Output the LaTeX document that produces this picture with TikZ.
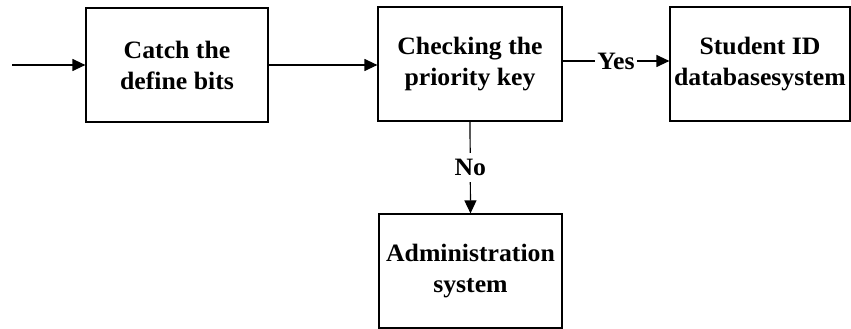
\documentclass[tikz,border=0pt]{standalone}
\usepackage{fontspec}
\setmainfont{Liberation Serif}[FakeStretch=1.03]
\usetikzlibrary{arrows.meta}
\tikzset{
  stagebox/.style={draw, line width=1.2pt, minimum height=114pt, inner sep=0pt,
    align=center, font=\bfseries\fontsize{25}{31}\selectfont},
  flow/.style={line width=1.2pt, -{Triangle[length=13pt,width=12pt]}},
  answer/.style={fill=white, inner sep=2pt, font=\bfseries\fontsize{25}{31}\selectfont}
}
\begin{document}
\begin{tikzpicture}[x=1pt,y=1pt]
  \useasboundingbox (0,0) rectangle (851,329);
  \node[stagebox, minimum width=182pt] (catch) at (177,264) {Catch the\\define bits};
  \node[stagebox, minimum width=184pt] (check) at (470,265) {Checking the\\priority key};
  \node[stagebox, minimum width=180pt] (student) at (760,265) {Student ID\\databasesystem};
  \node[stagebox, minimum width=183pt] (admin) at (470.5,58) {Administration\\system};
  \coordinate (in) at (12,264);

  \draw[flow] (in) -- (catch.west);
  \draw[flow] (catch.east) -- (catch.east -| check.west);
  \draw[flow] ([yshift=3pt]check.east) -- node[answer] {Yes} ([yshift=3pt]check.east -| student.west);
  \draw[flow] (check.south) -- node[answer, inner ysep=6pt] {No} (admin.north);
\end{tikzpicture}
\end{document}
